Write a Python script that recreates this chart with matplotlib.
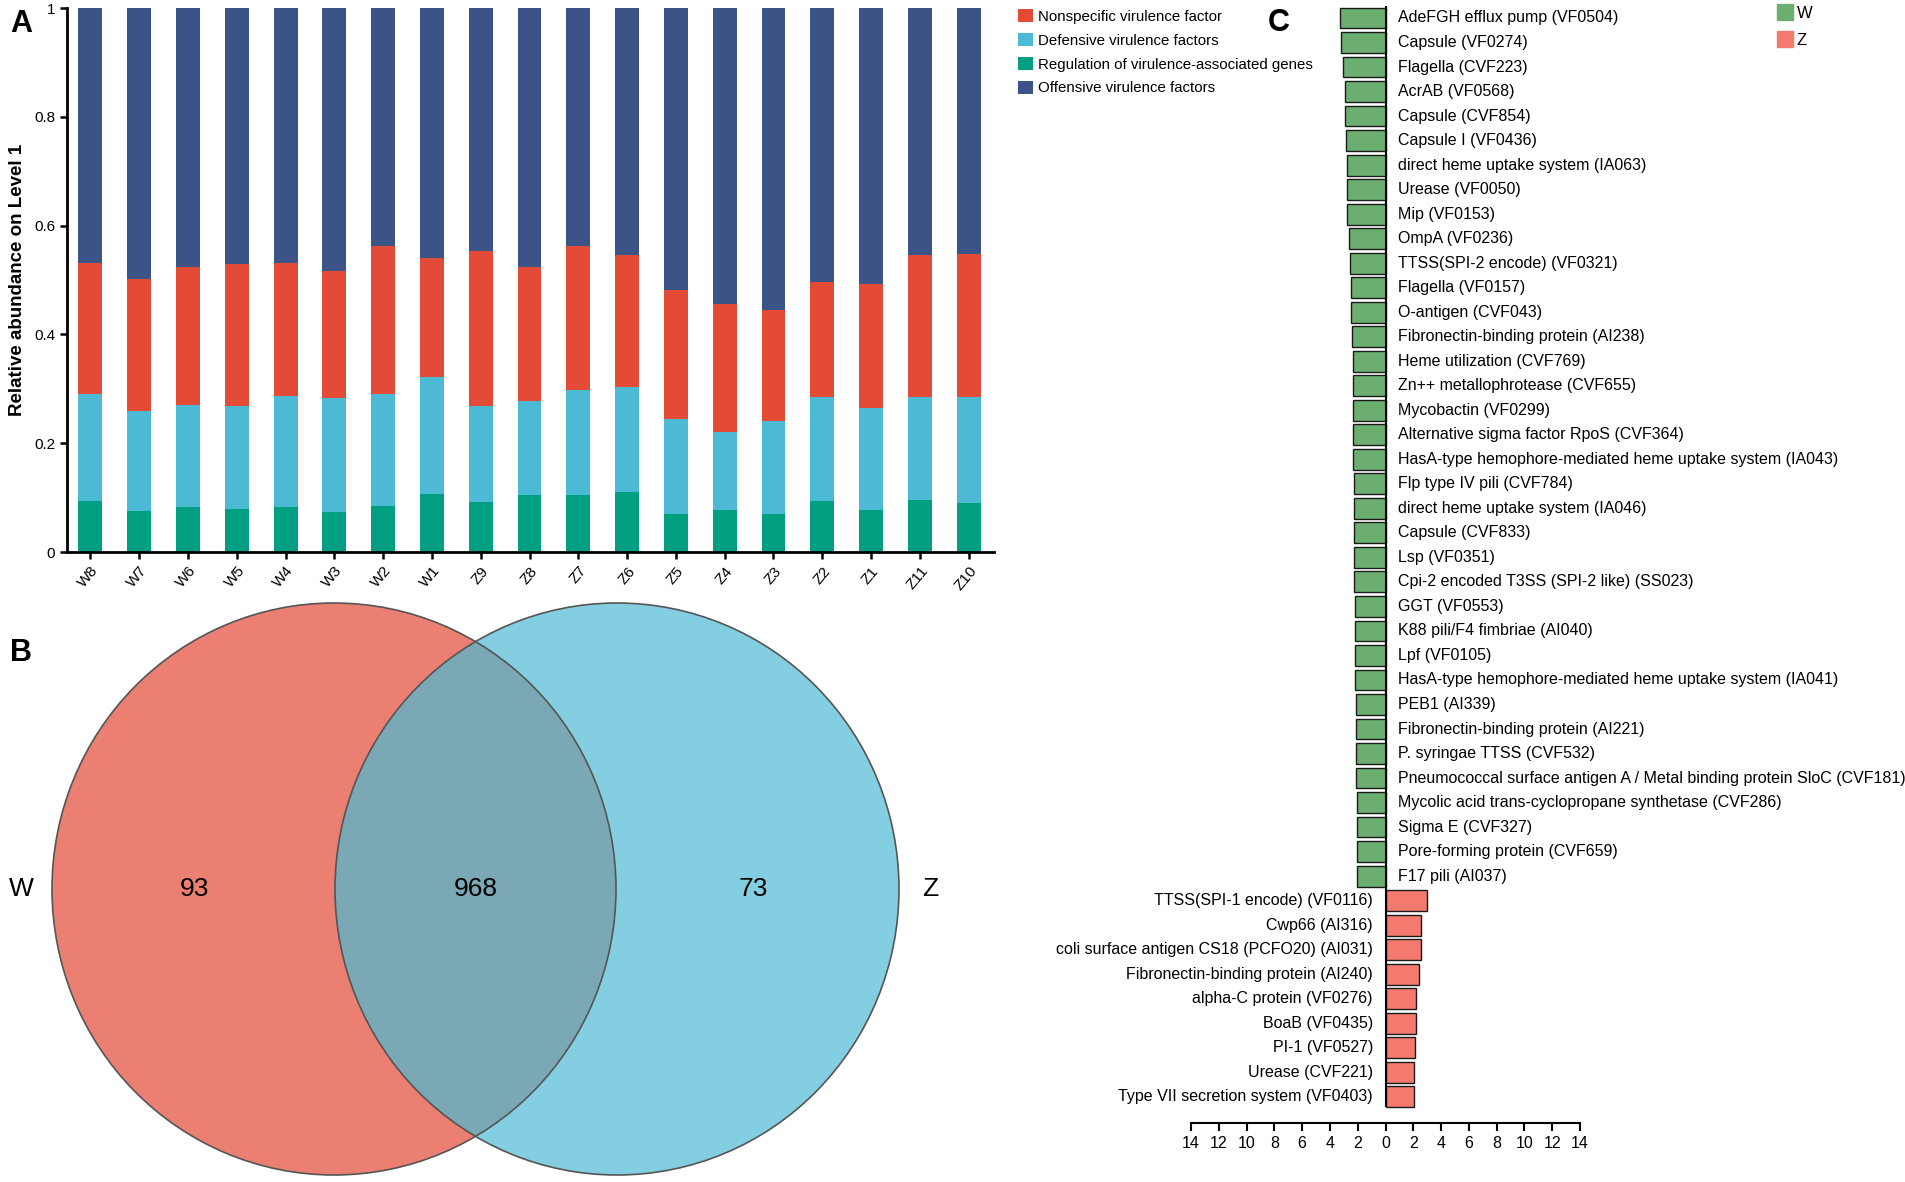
import numpy as np
import matplotlib
matplotlib.use("Agg")
import matplotlib.pyplot as plt
import matplotlib.patches as mpatches
from matplotlib.ticker import FuncFormatter

plt.rcParams["font.family"] = ["Liberation Sans", "DejaVu Sans"]

# ── Panel A data ──────────────────────────────────────────────────────────────
samples = ["W8", "W7", "W6", "W5", "W4", "W3", "W2", "W1", "Z9", "Z8",
           "Z7", "Z6", "Z5", "Z4", "Z3", "Z2", "Z1", "Z11", "Z10"]
regulation = [0.094, 0.075, 0.083, 0.079, 0.082, 0.074, 0.085, 0.107, 0.091, 0.104,
              0.105, 0.111, 0.069, 0.077, 0.070, 0.094, 0.077, 0.096, 0.090]
defensive = [0.197, 0.184, 0.187, 0.189, 0.204, 0.209, 0.205, 0.214, 0.178, 0.173,
             0.193, 0.193, 0.175, 0.144, 0.170, 0.191, 0.187, 0.189, 0.195]
nonspecific = [0.240, 0.243, 0.253, 0.261, 0.246, 0.234, 0.273, 0.220, 0.284, 0.246,
               0.265, 0.242, 0.238, 0.235, 0.205, 0.211, 0.229, 0.261, 0.263]
offensive = [0.469, 0.498, 0.477, 0.471, 0.468, 0.483, 0.437, 0.459, 0.447, 0.477,
             0.437, 0.454, 0.518, 0.544, 0.555, 0.504, 0.507, 0.454, 0.452]

# ── Panel B data ──────────────────────────────────────────────────────────────
venn_groups = ["W", "Z"]
venn_counts = [93, 968, 73]   # W only, shared, Z only

# ── Panel C data ──────────────────────────────────────────────────────────────
w_factors = [
    "AdeFGH efflux pump (VF0504)", "Capsule (VF0274)", "Flagella (CVF223)",
    "AcrAB (VF0568)", "Capsule (CVF854)", "Capsule I (VF0436)",
    "direct heme uptake system (IA063)", "Urease (VF0050)", "Mip (VF0153)",
    "OmpA (VF0236)", "TTSS(SPI-2 encode) (VF0321)", "Flagella (VF0157)",
    "O-antigen (CVF043)", "Fibronectin-binding protein (AI238)",
    "Heme utilization (CVF769)", "Zn++ metallophrotease (CVF655)",
    "Mycobactin (VF0299)", "Alternative sigma factor RpoS (CVF364)",
    "HasA-type hemophore-mediated heme uptake system (IA043)",
    "Flp type IV pili (CVF784)", "direct heme uptake system (IA046)",
    "Capsule (CVF833)", "Lsp (VF0351)", "Cpi-2 encoded T3SS (SPI-2 like) (SS023)",
    "GGT (VF0553)", "K88 pili/F4 fimbriae (AI040)", "Lpf (VF0105)",
    "HasA-type hemophore-mediated heme uptake system (IA041)", "PEB1 (AI339)",
    "Fibronectin-binding protein (AI221)", "P. syringae TTSS (CVF532)",
    "Pneumococcal surface antigen A / Metal binding protein SloC (CVF181)",
    "Mycolic acid trans-cyclopropane synthetase (CVF286)", "Sigma E (CVF327)",
    "Pore-forming protein (CVF659)", "F17 pili (AI037)",
]
w_values = [3.31, 3.17, 3.03, 2.94, 2.89, 2.83, 2.80, 2.77, 2.75, 2.61, 2.52, 2.50,
            2.46, 2.41, 2.36, 2.36, 2.34, 2.34, 2.31, 2.29, 2.29, 2.27, 2.24, 2.24,
            2.22, 2.19, 2.19, 2.17, 2.12, 2.12, 2.10, 2.10, 2.07, 2.07, 2.05, 2.05]
z_factors = [
    "TTSS(SPI-1 encode) (VF0116)", "Cwp66 (AI316)",
    "coli surface antigen CS18 (PCFO20) (AI031)",
    "Fibronectin-binding protein (AI240)", "alpha-C protein (VF0276)",
    "BoaB (VF0435)", "PI-1 (VF0527)", "Urease (CVF221)",
    "Type VII secretion system (VF0403)",
]
z_values = [3.00, 2.53, 2.53, 2.39, 2.22, 2.22, 2.12, 2.02, 2.02]

COLORS = {
    "nonspecific": "#E34B36",
    "defensive":   "#4DBAD5",
    "regulation":  "#009F82",
    "offensive":   "#3B5387",
    "venn_w":      "#EB8072",
    "venn_z":      "#83CFE1",
    "venn_both":   "#7BA8B5",
    "bar_w":       "#6BAE6F",
    "bar_z":       "#F47A70",
}

W, H = 1905, 1182
fig = plt.figure(figsize=(W / 100, H / 100), dpi=100)


def fbox(x0, y0, x1, y1):
    """pixel box (top-left origin) -> figure rect"""
    return [x0 / W, 1 - y1 / H, (x1 - x0) / W, (y1 - y0) / H]


# ══════════════════════════════════════════════════════════════════════════════
# A. stacked bars
# ══════════════════════════════════════════════════════════════════════════════
axA = fig.add_axes(fbox(67, 8, 994, 552))
x = np.arange(len(samples))
bw = 0.49
bottom = np.zeros(len(samples))
stack = [("regulation", regulation, "Regulation of virulence-associated genes"),
         ("defensive", defensive, "Defensive virulence factors"),
         ("nonspecific", nonspecific, "Nonspecific virulence factor"),
         ("offensive", offensive, "Offensive virulence factors")]
handles = {}
for key, vals, lab in stack:
    vals = np.array(vals)
    handles[key] = axA.bar(x, vals, bw, bottom=bottom, color=COLORS[key], label=lab)
    bottom += vals

axA.set_xlim(-0.48, len(samples) - 0.48)
axA.set_ylim(0, 1)
axA.set_yticks([0, 0.2, 0.4, 0.6, 0.8, 1])
axA.set_yticklabels(["0", "0.2", "0.4", "0.6", "0.8", "1"], fontsize=11)
axA.set_xticks(x)
axA.set_xticklabels(samples, rotation=50, ha="right", rotation_mode="anchor", fontsize=11)
axA.set_ylabel("Relative abundance on Level 1", fontsize=13.5, fontweight="bold", labelpad=6)
for s in ["top", "right"]:
    axA.spines[s].set_visible(False)
for s in ["left", "bottom"]:
    axA.spines[s].set_linewidth(2)
axA.tick_params(width=1.8, length=5)

leg_order = ["nonspecific", "defensive", "regulation", "offensive"]
fig.legend([handles[k] for k in leg_order],
           [dict((k, l) for k, _, l in stack)[k] for k in leg_order],
           loc="upper left", bbox_to_anchor=(1012 / W, 1 - 3 / H), frameon=False,
           fontsize=10.8, handlelength=1.0, handleheight=1.0, handletextpad=0.35,
           labelspacing=0.6, borderaxespad=0)

fig.text(10 / W, 1 - 24 / H, "A", fontsize=22, fontweight="bold", va="center")

# ══════════════════════════════════════════════════════════════════════════════
# B. Venn
# ══════════════════════════════════════════════════════════════════════════════
axB = fig.add_axes(fbox(0, 590, 1000, 1182))
axB.set_xlim(0, 1000)
axB.set_ylim(592, 0)
axB.set_aspect("equal")
axB.axis("off")
cy = 889 - 590
left_c, right_c, rx, ry = 334, 617, 282, 286
axB.add_patch(mpatches.Ellipse((left_c, cy), 2 * rx, 2 * ry, facecolor=COLORS["venn_w"],
                               edgecolor="none"))
axB.add_patch(mpatches.Ellipse((right_c, cy), 2 * rx, 2 * ry, facecolor=COLORS["venn_z"],
                               edgecolor="none"))
clip = mpatches.Ellipse((left_c, cy), 2 * rx, 2 * ry, transform=axB.transData,
                        facecolor="none", edgecolor="none")
axB.add_patch(clip)
inter = mpatches.Ellipse((right_c, cy), 2 * rx, 2 * ry, facecolor=COLORS["venn_both"],
                         edgecolor="none")
axB.add_patch(inter)
inter.set_clip_path(clip)
for cx in (left_c, right_c):
    axB.add_patch(mpatches.Ellipse((cx, cy), 2 * rx, 2 * ry, facecolor="none",
                                   edgecolor="#555555", linewidth=1.2))
axB.text(194, cy, str(venn_counts[0]), fontsize=19, ha="center", va="center")
axB.text((left_c + right_c) / 2, cy, str(venn_counts[1]), fontsize=19, ha="center", va="center")
axB.text(753, cy, str(venn_counts[2]), fontsize=19, ha="center", va="center")
axB.text(21, cy, venn_groups[0], fontsize=19, ha="center", va="center")
axB.text(930, cy, venn_groups[1], fontsize=19, ha="center", va="center")
fig.text(10 / W, 1 - 653 / H, "B", fontsize=22, fontweight="bold", va="center")

# ══════════════════════════════════════════════════════════════════════════════
# C. diverging bars
# ══════════════════════════════════════════════════════════════════════════════
axC = fig.add_axes(fbox(1191, 0, 1580, 1123))
n_w, n_z = len(w_factors), len(z_factors)
yw = np.arange(n_w)
yz = np.arange(n_w, n_w + n_z)
bh = 0.85
axC.barh(yw, -np.array(w_values), bh, color=COLORS["bar_w"], edgecolor="#1a1a1a",
         linewidth=1.0, label="W")
axC.barh(yz, z_values, bh, color=COLORS["bar_z"], edgecolor="#1a1a1a",
         linewidth=1.0, label="Z")
for yy, lab in zip(yw, w_factors):
    axC.text(0.9, yy, lab, fontsize=11.5, ha="left", va="center")
for yy, lab in zip(yz, z_factors):
    axC.text(-0.9, yy, lab, fontsize=11.5, ha="right", va="center")
axC.vlines(0, -bh / 2 - 0.05, n_w + n_z - 1 + bh / 2, color="black", linewidth=1.5)

axC.set_xlim(-14, 14)
axC.set_ylim(45.07, -0.734)
axC.set_xticks(np.arange(-14, 15, 2))
axC.xaxis.set_major_formatter(FuncFormatter(lambda v, _: f"{abs(v):.0f}"))
axC.tick_params(axis="x", labelsize=11.5, width=1.5, length=6)
axC.set_yticks([])
for s in ["top", "right", "left"]:
    axC.spines[s].set_visible(False)
axC.spines["bottom"].set_linewidth(1.5)
axC.patch.set_alpha(0)

fig.legend(handles=[mpatches.Patch(color=COLORS["bar_w"], label="W"),
                    mpatches.Patch(color=COLORS["bar_z"], label="Z")],
           loc="upper left", bbox_to_anchor=(1770 / W, 1 + 3 / H), frameon=False,
           fontsize=12, handlelength=1.0, handleheight=1.15, handletextpad=0.2,
           labelspacing=0.6, borderaxespad=0)
fig.text(1268 / W, 1 - 23 / H, "C", fontsize=22, fontweight="bold", va="center")

fig.savefig("out.png", dpi=100)
